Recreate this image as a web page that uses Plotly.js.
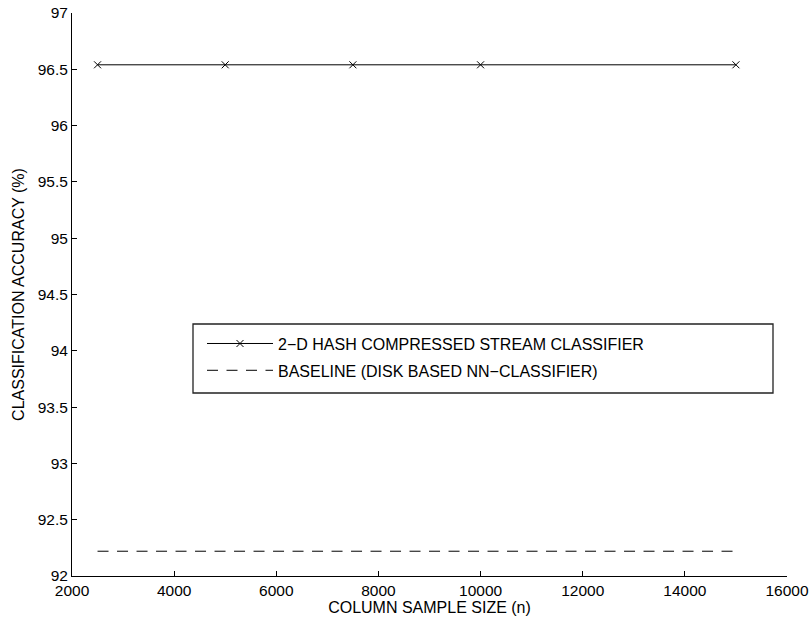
<!DOCTYPE html>
<html>
<head>
<meta charset="utf-8">
<script src="https://cdn.plot.ly/plotly-3.0.1.min.js"></script>
<style>html,body{margin:0;padding:0;background:#fff;}#chart{width:812px;height:620px;}</style>
</head>
<body>
<div id="chart"></div>
<script>
const sampleSizes = [2500, 5000, 7500, 10000, 15000];
const hashAccuracy = [96.54, 96.54, 96.54, 96.54, 96.54];
const baselineSizes = [2500, 15000];
const baselineAccuracy = [92.22, 92.22];
const seriesNames = ['2\u2212D HASH COMPRESSED STREAM CLASSIFIER', 'BASELINE (DISK BASED NN\u2212CLASSIFIER)'];
const xTicks = [2000, 4000, 6000, 8000, 10000, 12000, 14000, 16000];
const yTicks = [92, 92.5, 93, 93.5, 94, 94.5, 95, 95.5, 96, 96.5, 97];

const font = 'Liberation Sans, Arial, Helvetica, sans-serif';

const traces = [
  {
    x: sampleSizes, y: hashAccuracy, name: seriesNames[0], type: 'scatter', mode: 'lines+markers',
    line: {color: '#000', width: 1},
    marker: {symbol: 'x-thin-open', size: 7, color: '#000', line: {color: '#000', width: 1}},
    legendgroup: 'a'
  },
  {
    x: baselineSizes, y: baselineAccuracy, name: seriesNames[1], type: 'scatter', mode: 'lines',
    line: {color: '#000', width: 1, dash: '11px,8.5px'},
    legendgroup: 'b'
  }
];

const layout = {
  width: 812, height: 620,
  margin: {l: 72, r: 25, t: 13, b: 44, pad: 0},
  paper_bgcolor: '#fff', plot_bgcolor: '#fff',
  font: {family: font, size: 16, color: '#000'},
  xaxis: {
    range: [2000, 16000], tickvals: xTicks, ticktext: xTicks.map(String),
    ticks: 'inside', ticklen: 5, tickcolor: '#000', tickwidth: 1,
    showline: true, linecolor: '#000', linewidth: 1, mirror: false,
    showgrid: false, zeroline: false,
    tickfont: {size: 15.5, family: font},
    title: {text: 'COLUMN SAMPLE SIZE (n)', font: {size: 16, family: font}, standoff: 0}
  },
  yaxis: {
    range: [92, 97], tickvals: yTicks, ticktext: yTicks.map(String),
    ticks: 'inside', ticklen: 5, tickcolor: '#000', tickwidth: 1,
    showline: true, linecolor: '#000', linewidth: 1, mirror: false,
    showgrid: false, zeroline: false,
    tickfont: {size: 15.5, family: font},
    title: {text: 'CLASSIFICATION ACCURACY (%)', font: {size: 16, family: font}, standoff: 9}
  },
  showlegend: true,
  legend: {
    x: (202 - 72) / 715, y: 0.443, xanchor: 'left', yanchor: 'top',
    bgcolor: 'rgba(0,0,0,0)', borderwidth: 0,
    font: {size: 16, family: font},
    itemwidth: 66, tracegroupgap: 3, traceorder: 'grouped'
  },
  shapes: [
    {type: 'rect', xref: 'paper', yref: 'paper',
     x0: (193 - 72) / 715, x1: (773 - 72) / 715,
     y0: (576 - 393) / 563, y1: (576 - 324) / 563,
     line: {color: '#222', width: 1.3}, fillcolor: 'rgba(0,0,0,0)'}
  ]
};

Plotly.newPlot('chart', traces, layout, {displayModeBar: false, staticPlot: true});
</script>
</body>
</html>
